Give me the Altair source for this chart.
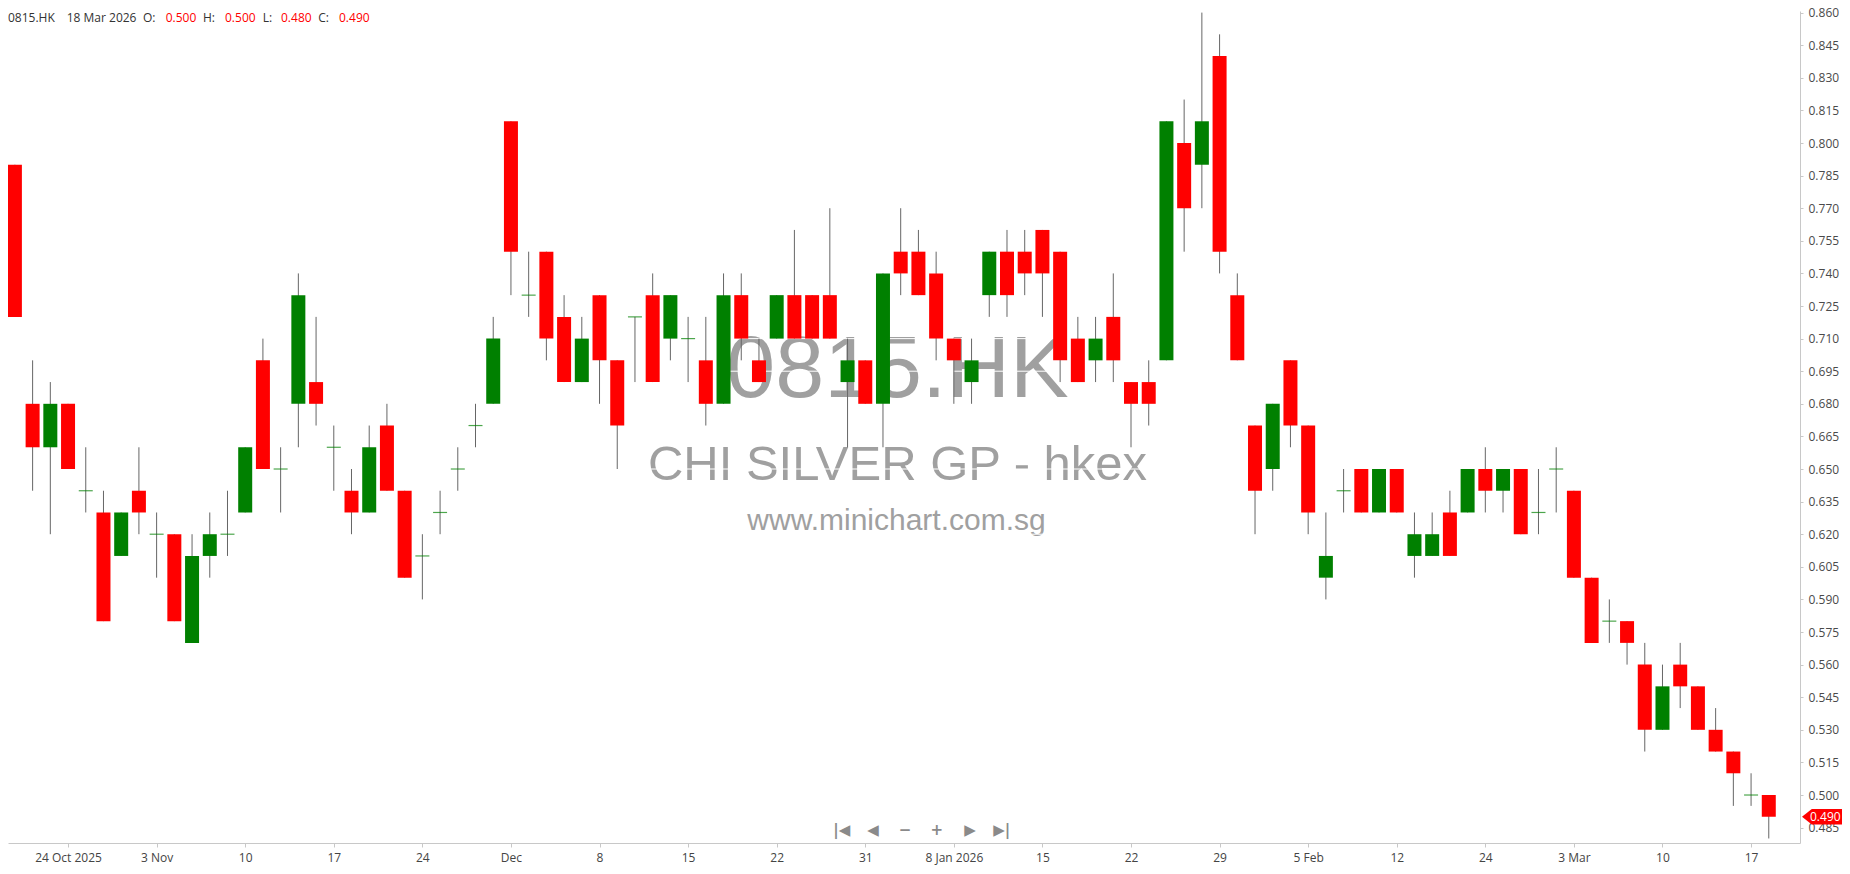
import altair as alt
import pandas as pd

# ---------------- data ----------------
dates = [
    "2025-10-21", "2025-10-22", "2025-10-23", "2025-10-24", "2025-10-27", "2025-10-28", "2025-10-30", "2025-10-31",
    "2025-11-03", "2025-11-04", "2025-11-05", "2025-11-06", "2025-11-07", "2025-11-10", "2025-11-11", "2025-11-12",
    "2025-11-13", "2025-11-14", "2025-11-17", "2025-11-18", "2025-11-19", "2025-11-20", "2025-11-21", "2025-11-24",
    "2025-11-25", "2025-11-26", "2025-11-27", "2025-11-28",
    "2025-12-01", "2025-12-02", "2025-12-03", "2025-12-04", "2025-12-05", "2025-12-08", "2025-12-09", "2025-12-10",
    "2025-12-11", "2025-12-12", "2025-12-15", "2025-12-16", "2025-12-17", "2025-12-18", "2025-12-19", "2025-12-22",
    "2025-12-23", "2025-12-24", "2025-12-29", "2025-12-30", "2025-12-31",
    "2026-01-02", "2026-01-05", "2026-01-06", "2026-01-07", "2026-01-08", "2026-01-09", "2026-01-12", "2026-01-13",
    "2026-01-14", "2026-01-15", "2026-01-16", "2026-01-19", "2026-01-20", "2026-01-21", "2026-01-22", "2026-01-23",
    "2026-01-26", "2026-01-27", "2026-01-28", "2026-01-29", "2026-01-30",
    "2026-02-02", "2026-02-03", "2026-02-04", "2026-02-05", "2026-02-06", "2026-02-09", "2026-02-10", "2026-02-11",
    "2026-02-12", "2026-02-13", "2026-02-16", "2026-02-20", "2026-02-23", "2026-02-24", "2026-02-25", "2026-02-26",
    "2026-02-27",
    "2026-03-02", "2026-03-03", "2026-03-04", "2026-03-05", "2026-03-06", "2026-03-09", "2026-03-10", "2026-03-11",
    "2026-03-12", "2026-03-13", "2026-03-16", "2026-03-17", "2026-03-18",
]

opens = [
    0.79, 0.68, 0.66, 0.68, 0.64, 0.63, 0.61, 0.64, 0.62, 0.62,
    0.57, 0.61, 0.62, 0.63, 0.70, 0.65, 0.68, 0.69, 0.66, 0.64,
    0.63, 0.67, 0.64, 0.61, 0.63, 0.65, 0.67, 0.68, 0.81, 0.73,
    0.75, 0.72, 0.69, 0.73, 0.70, 0.72, 0.73, 0.71, 0.71, 0.70,
    0.68, 0.73, 0.70, 0.71, 0.73, 0.73, 0.73, 0.69, 0.70, 0.68,
    0.75, 0.75, 0.74, 0.71, 0.69, 0.73, 0.75, 0.75, 0.76, 0.75,
    0.71, 0.70, 0.72, 0.69, 0.69, 0.70, 0.80, 0.79, 0.84, 0.73,
    0.67, 0.65, 0.70, 0.67, 0.60, 0.64, 0.65, 0.63, 0.65, 0.61,
    0.61, 0.63, 0.63, 0.65, 0.64, 0.65, 0.63, 0.65, 0.64, 0.60,
    0.58, 0.58, 0.56, 0.53, 0.56, 0.55, 0.53, 0.52, 0.50, 0.50,
]
highs = [
    0.79, 0.70, 0.69, 0.68, 0.66, 0.64, 0.63, 0.66, 0.63, 0.62,
    0.62, 0.63, 0.64, 0.66, 0.71, 0.66, 0.74, 0.72, 0.67, 0.65,
    0.67, 0.68, 0.64, 0.62, 0.64, 0.66, 0.68, 0.72, 0.81, 0.75,
    0.75, 0.73, 0.72, 0.73, 0.70, 0.72, 0.74, 0.73, 0.72, 0.72,
    0.74, 0.74, 0.71, 0.73, 0.76, 0.73, 0.77, 0.71, 0.70, 0.74,
    0.77, 0.76, 0.75, 0.71, 0.71, 0.75, 0.76, 0.76, 0.76, 0.75,
    0.72, 0.72, 0.74, 0.69, 0.70, 0.81, 0.82, 0.86, 0.85, 0.74,
    0.67, 0.68, 0.70, 0.67, 0.63, 0.65, 0.65, 0.65, 0.65, 0.63,
    0.63, 0.64, 0.65, 0.66, 0.65, 0.65, 0.65, 0.66, 0.64, 0.60,
    0.59, 0.58, 0.57, 0.56, 0.57, 0.55, 0.54, 0.52, 0.51, 0.50,
]
lows = [
    0.72, 0.64, 0.62, 0.65, 0.63, 0.58, 0.61, 0.62, 0.60, 0.58,
    0.57, 0.60, 0.61, 0.63, 0.65, 0.63, 0.66, 0.67, 0.64, 0.62,
    0.63, 0.64, 0.60, 0.59, 0.62, 0.64, 0.66, 0.68, 0.73, 0.72,
    0.70, 0.69, 0.69, 0.68, 0.65, 0.69, 0.69, 0.70, 0.69, 0.67,
    0.68, 0.70, 0.69, 0.71, 0.71, 0.71, 0.71, 0.66, 0.68, 0.66,
    0.73, 0.73, 0.70, 0.68, 0.68, 0.72, 0.72, 0.73, 0.72, 0.69,
    0.69, 0.69, 0.69, 0.66, 0.67, 0.70, 0.75, 0.77, 0.74, 0.70,
    0.62, 0.64, 0.66, 0.62, 0.59, 0.63, 0.63, 0.63, 0.63, 0.60,
    0.61, 0.61, 0.63, 0.63, 0.63, 0.62, 0.62, 0.63, 0.60, 0.57,
    0.57, 0.56, 0.52, 0.53, 0.54, 0.53, 0.52, 0.495, 0.495, 0.48,
]
closes = [
    0.72, 0.66, 0.68, 0.65, 0.64, 0.58, 0.63, 0.63, 0.62, 0.58,
    0.61, 0.62, 0.62, 0.66, 0.65, 0.65, 0.73, 0.68, 0.66, 0.63,
    0.66, 0.64, 0.60, 0.61, 0.63, 0.65, 0.67, 0.71, 0.75, 0.73,
    0.71, 0.69, 0.71, 0.70, 0.67, 0.72, 0.69, 0.73, 0.71, 0.68,
    0.73, 0.71, 0.69, 0.73, 0.71, 0.71, 0.71, 0.70, 0.68, 0.74,
    0.74, 0.73, 0.71, 0.70, 0.70, 0.75, 0.73, 0.74, 0.74, 0.70,
    0.69, 0.71, 0.70, 0.68, 0.68, 0.81, 0.77, 0.81, 0.75, 0.70,
    0.64, 0.68, 0.67, 0.63, 0.61, 0.64, 0.63, 0.65, 0.63, 0.62,
    0.62, 0.61, 0.65, 0.64, 0.65, 0.62, 0.63, 0.65, 0.60, 0.57,
    0.58, 0.57, 0.53, 0.55, 0.55, 0.53, 0.52, 0.51, 0.50, 0.49,
]

tick_index = [3, 8, 13, 18, 23, 28, 33, 38, 43, 48, 53, 58, 63, 68, 73, 78, 83, 88, 93, 98]
tick_labels = ["24 Oct 2025", "3 Nov", "10", "17", "24", "Dec", "8", "15", "22", "31",
               "8 Jan 2026", "15", "22", "29", "5 Feb", "12", "24", "3 Mar", "10", "17"]
price_ticks = [0.485, 0.500, 0.515, 0.530, 0.545, 0.560, 0.575, 0.590, 0.605, 0.620,
               0.635, 0.650, 0.665, 0.680, 0.695, 0.710, 0.725, 0.740, 0.755, 0.770,
               0.785, 0.800, 0.815, 0.830, 0.845, 0.860]

symbol = "0815.HK"
company = "CHI SILVER GP - hkex"
website = "www.minichart.com.sg"
last_date_label = "18 Mar 2026"

# ---------------- layout ----------------
W, H = 1792, 832
PAD = {"left": 0, "top": 3, "right": 42, "bottom": 23}
FONT = "Open Sans"
RED = "#ff0000"
GREEN = "#008000"

df = pd.DataFrame({"i": list(range(len(dates))), "date": dates,
                   "open": opens, "high": highs, "low": lows, "close": closes})
df["dir"] = ["up" if c > o else ("down" if c < o else "flat") for o, c in zip(opens, closes)]

label_expr = "{}[indexof({}, datum.value)]".format(
    "[" + ",".join("'%s'" % t for t in tick_labels) + "]",
    "[" + ",".join(str(t) for t in tick_index) + "]",
)

x_enc = alt.X(
    "i:Q",
    scale=alt.Scale(domain=[-0.107, 100.48], nice=False, zero=False),
    axis=alt.Axis(values=tick_index, labelExpr=label_expr, title=None, grid=False,
                  labelFont=FONT, labelFontSize=12, labelColor="#444",
                  domainColor="#c8c8c8", tickColor="#c8c8c8", tickSize=4,
                  labelPadding=5, labelFlush=False, labelOverlap=False),
)
y_scale = alt.Scale(domain=[0.47792, 0.86074], nice=False, zero=False)
y_axis = alt.Axis(orient="right", values=price_ticks, format=".3f", title=None, grid=False,
                  labelFont=FONT, labelFontSize=12, labelColor="#4a4a4a",
                  domainColor="#c8c8c8", tickColor="#c8c8c8", tickSize=3,
                  labelPadding=5, labelFlush=False, labelOverlap=False)


def y_of(field):
    return alt.Y(field, scale=y_scale, axis=y_axis)


# watermark
wm_df = pd.DataFrame({"t": [symbol, company, website],
                      "size": [88, 49, 30],
                      "px": [889.5, 889.5, 888.5],
                      "py": [386, 469, 519]})
watermark = alt.layer(*[
    alt.Chart(wm_df.iloc[[k]]).mark_text(
        font="Liberation Sans", fontSize=int(wm_df["size"][k]), color="#a0a0a0",
        align="center", baseline="alphabetic"
    ).encode(x=alt.value(float(wm_df["px"][k])), y=alt.value(float(wm_df["py"][k])), text="t:N")
    for k in range(3)
])

# faint white gridlines over watermark
grid = alt.Chart(pd.DataFrame({"p": price_ticks})).mark_rule(
    color="white", strokeWidth=1
).encode(y=y_of("p:Q"))

wicks = alt.Chart(df).mark_rule(color="#666666", strokeWidth=1).encode(
    x=x_enc, y=y_of("low:Q"), y2="high:Q"
)

bodies = alt.Chart(df).transform_filter("datum.dir != 'flat'").mark_bar(size=14).encode(
    x=x_enc, y=y_of("open:Q"), y2="close:Q",
    color=alt.Color("dir:N", scale=alt.Scale(domain=["up", "down"], range=[GREEN, RED]), legend=None),
)

doji = alt.Chart(df).transform_filter("datum.dir == 'flat'").mark_tick(
    orient="horizontal", size=14, thickness=1.2, color=GREEN
).encode(x=x_enc, y=y_of("open:Q"))

# header (OHLC of last bar)
last = df.iloc[-1]
header_df = pd.DataFrame({
    "t": [symbol, last_date_label, "O:", "%.3f" % last["open"], "H:", "%.3f" % last["high"],
          "L:", "%.3f" % last["low"], "C:", "%.3f" % last["close"]],
    "px": [0, 58.7, 135, 157.7, 195, 217, 254.7, 273, 310.3, 331],
    "c": ["#333333", "#333333", "#333333", RED, "#333333", RED, "#333333", RED, "#333333", RED],
})
header = alt.Chart(header_df).mark_text(
    font=FONT, fontSize=12, align="left", baseline="middle"
).encode(
    x=alt.X("px:Q", scale=None), y=alt.value(7.3), text="t:N",
    color=alt.Color("c:N", scale=None),
)

# navigation buttons
nav_df = pd.DataFrame({"t": ["|◀", "◀", "−", "+", "▶", "▶|"],
                       "px": [833.7, 865, 897, 928.7, 962, 993.7]})
nav = alt.Chart(nav_df).mark_text(
    font="DejaVu Sans", fontSize=15, fontWeight="bold", color="#8a8a8a",
    align="center", baseline="middle"
).encode(x=alt.X("px:Q", scale=None), y=alt.value(819), text="t:N")

# last price tag
last_df = df.tail(1)
tag_shape = "M -1 0 L -0.545 -0.364 L 1 -0.364 L 1 0.364 L -0.545 0.364 Z"
tag = alt.Chart(last_df).mark_point(
    shape=tag_shape, size=1849, filled=True, color=RED, opacity=1, strokeWidth=0
).encode(x=alt.value(W + 23.5), y=y_of("close:Q"))
tag_text = alt.Chart(last_df).mark_text(
    font=FONT, fontSize=12, color="white", align="left", baseline="middle"
).encode(x=alt.value(W + 10), y=y_of("close:Q"), text=alt.Text("close:Q", format=".3f"))

chart = alt.layer(
    watermark, grid, wicks, bodies, doji, header, nav, tag, tag_text
).properties(
    width=W, height=H, padding=PAD,
    autosize=alt.AutoSizeParams(type="none"),
    background="white",
).configure_view(stroke=None)

chart.save("out.html", embed_options={"renderer": "svg", "actions": False})
